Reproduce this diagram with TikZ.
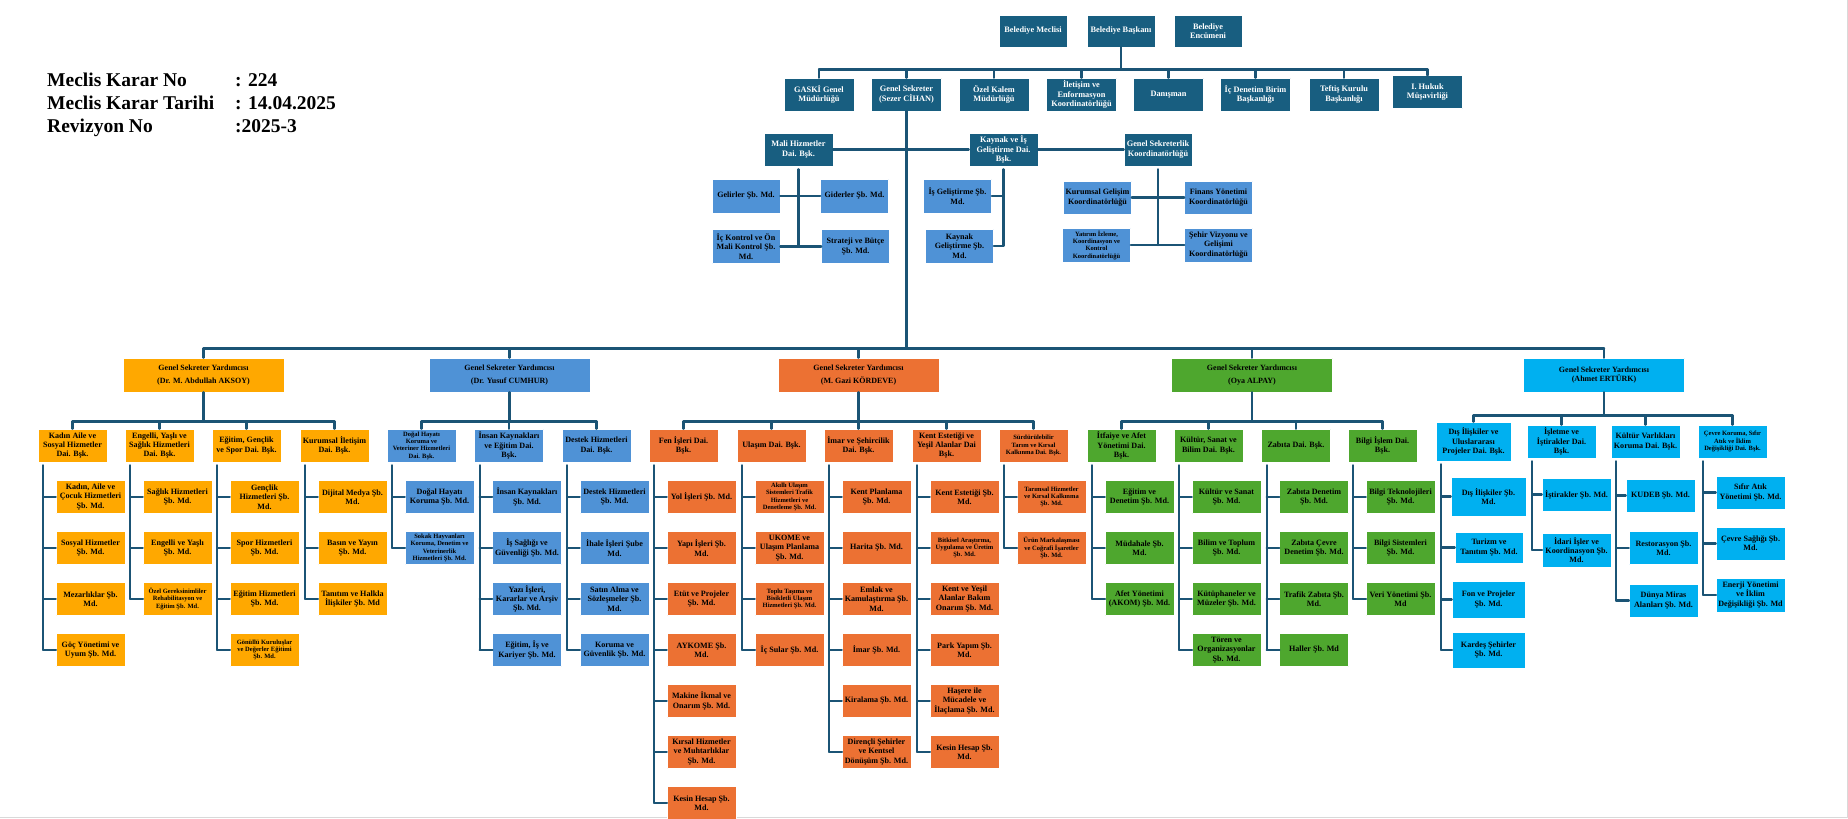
\documentclass[tikz,border=0pt]{standalone}
\usepackage{fontspec}
\setmainfont{Liberation Serif}
\usepackage{pgf,tikz}
\usetikzlibrary{arrows}

\definecolor{lacivert}{RGB}{24,94,128}
\definecolor{hatrengi}{RGB}{27,84,117}
\definecolor{acikmavi}{RGB}{79,146,214}
\definecolor{turuncu}{RGB}{255,168,0}
\definecolor{kiremit}{RGB}{236,113,51}
\definecolor{yesil}{RGB}{78,167,46}
\definecolor{camgobegi}{RGB}{0,176,240}

\begin{document}
\begin{tikzpicture}[line cap=round,line join=round,x=1pt,y=-1pt,
    kutu/.style={rectangle,draw=white,line width=0.6pt,align=center,inner sep=1pt,minimum width=69pt,minimum height=33pt,font=\fontsize{8.1}{9.3}\selectfont\bfseries},
    duz/.style={},
    ince/.style={font=\fontsize{6.5}{7.3}\selectfont\bfseries},
    koyu/.style={kutu,fill=lacivert,text=white,font=\fontsize{8.3}{9.4}\selectfont\bfseries},
    gsy/.style={kutu,minimum width=161pt,minimum height=34pt,font=\fontsize{8}{13}\selectfont\bfseries},
    baslik/.style={anchor=base west,inner sep=0pt,font=\fontsize{19.5}{22}\selectfont\bfseries},
    hat/.style={line width=2.4pt,color=hatrengi}]
\useasboundingbox (0,0) rectangle (1848,819);
\draw[gray!30,line width=1pt] (0,817.5) -- (1847.5,817.5) -- (1847.5,0);

% karar bilgisi
\node[baslik] (kararno) at (47,86) {Meclis Karar No};
\node[baslik] (kararnov) at (235,86) {: 224};
\node[baslik] (karartar) at (47,109) {Meclis Karar Tarihi};
\node[baslik] (karartarv) at (235,109) {: 14.04.2025};
\node[baslik] (revizyon) at (47,132) {Revizyon No};
\node[baslik] (revizyonv) at (235,132) {:2025-3};

% baskanlik
\node[koyu,minimum width=68pt,minimum height=32pt] (meclis) at (1033,31) {Belediye Meclisi};
\node[koyu,minimum width=68pt,minimum height=32pt] (baskan) at (1121,31) {Belediye Başkanı};
\node[koyu,minimum width=68pt,minimum height=32pt] (encumen) at (1208,31) {Belediye\\Encümeni};

\node[koyu,minimum width=70pt] (gaski) at (819,94.5) {GASKİ Genel\\Müdürlüğü};
\node[koyu,minimum width=70pt] (gs) at (906.5,94.5) {Genel Sekreter\\(Sezer CİHAN)};
\node[koyu,minimum width=70pt] (ozel) at (994,94.5) {Özel Kalem\\Müdürlüğü};
\node[koyu,minimum width=70pt] (iletisim) at (1081.5,94.5) {İletişim ve\\Enformasyon\\Koordinatörlüğü};
\node[koyu,minimum width=70pt] (danisman) at (1168.5,94.5) {Danışman};
\node[koyu,minimum width=70pt] (icdenetim) at (1255.5,94.5) {İç Denetim Birim\\Başkanlığı};
\node[koyu,minimum width=70pt] (teftis) at (1344,94.5) {Teftiş Kurulu\\Başkanlığı};
\node[koyu,minimum width=70pt] (hukuk) at (1427.5,92) {I. Hukuk\\Müşavirliği};

\draw[hat] (baskan.south) -- ++(0,22) coordinate (ust);
\draw[hat] (ust -| gaski.north) -- (ust -| hukuk.north);
\foreach \n in {gaski,gs,ozel,iletisim,danisman,icdenetim,teftis,hukuk}
  \draw[hat] (ust -| \n.north) -- (\n.north);

% genel sekreter altı
\node[koyu] (mali) at (798.5,149.5) {Mali Hizmetler\\Dai. Bşk.};
\node[koyu] (kaynak) at (1003.5,149.5) {Kaynak ve İş\\Geliştirme Dai.\\Bşk.};
\node[koyu,minimum width=68pt] (gsk) at (1158,149.5) {Genel Sekreterlik\\Koordinatörlüğü};

\node[kutu,fill=acikmavi,minimum width=68pt,minimum height=34pt] (gelirler) at (746,196) {Gelirler Şb. Md.};
\node[kutu,fill=acikmavi,minimum width=68pt,minimum height=34pt] (giderler) at (854.5,196) {Giderler Şb. Md.};
\node[kutu,fill=acikmavi,minimum width=68pt,minimum height=34pt] (ickontrol) at (746,246.5) {İç Kontrol ve Ön\\Mali Kontrol Şb.\\Md.};
\node[kutu,fill=acikmavi,minimum width=68pt,minimum height=34pt] (strateji) at (855.5,246.5) {Strateji ve Bütçe\\Şb. Md.};
\node[kutu,fill=acikmavi,minimum width=68pt,minimum height=34pt] (isgel) at (957.5,196) {İş Geliştirme Şb.\\Md.};
\node[kutu,fill=acikmavi,minimum width=68pt,minimum height=34pt] (kaygel) at (959.5,246) {Kaynak\\Geliştirme Şb.\\Md.};
\node[kutu,fill=acikmavi,minimum width=68pt,minimum height=33pt] (kurumsalg) at (1097.5,197.5) {Kurumsal Gelişim\\Koordinatörlüğü};
\node[kutu,fill=acikmavi,minimum width=68pt,minimum height=33pt] (finans) at (1218.5,197.5) {Finans Yönetimi\\Koordinatörlüğü};
\node[kutu,fill=acikmavi,ince,minimum width=68pt,minimum height=34pt] (yatirim) at (1096.5,245) {Yatırım İzleme,\\Koordinasyon ve\\Kontrol\\Koordinatörlüğü};
\node[kutu,fill=acikmavi,minimum width=68pt,minimum height=34pt] (sehir) at (1218.5,245) {Şehir Vizyonu ve\\Gelişimi\\Koordinatörlüğü};

\draw[hat] (gs.south) -- ++(0,237) coordinate (ana);
\draw[hat] (mali.east) -- (kaynak.west);
\draw[hat] (kaynak.east) -- (gsk.west);
\draw[hat] ([yshift=-3pt]mali.south) -- (mali.south |- ickontrol.east);
\draw[hat] (gelirler.east) -- (giderler.west);
\draw[hat] (ickontrol.east) -- (strateji.west);
\draw[hat] ([yshift=-3pt]kaynak.south) |- (kaygel.east);
\draw[hat] (kaynak.south |- isgel.east) -- (isgel.east);
\draw[hat] ([yshift=-3pt]gsk.south) -- (gsk.south |- sehir.west);
\draw[hat] (kurumsalg.east) -- (finans.west);
\draw[hat] (yatirim.east) -- (sehir.west);

% genel sekreter yardimcilari
\node[gsy,fill=turuncu] (aksoy) at (203.5,375) {Genel Sekreter Yardımcısı\\(Dr. M. Abdullah AKSOY)};
\node[gsy,fill=acikmavi] (cumhur) at (509.5,375) {Genel Sekreter Yardımcısı\\(Dr. Yusuf CUMHUR)};
\node[gsy,fill=kiremit] (kordeve) at (858.5,375) {Genel Sekreter Yardımcısı\\(M. Gazi KÖRDEVE)};
\node[gsy,fill=yesil] (alpay) at (1252,375) {Genel Sekreter Yardımcısı\\(Oya ALPAY)};
\node[gsy,fill=camgobegi,font=\fontsize{8}{9.5}\selectfont\bfseries] (erturk) at (1604,375) {Genel Sekreter Yardımcısı\\(Ahmet ERTÜRK)};

\draw[hat] (ana -| aksoy.north) -- (ana -| erturk.north);
\foreach \n in {aksoy,cumhur,kordeve,alpay,erturk}
  \draw[hat] (ana -| \n.north) -- (\n.north);

% daire baskanliklari
\node[kutu,fill=turuncu] (kadin) at (72.5,445.5) {Kadın Aile ve\\Sosyal Hizmetler\\Dai. Bşk.};
\node[kutu,fill=turuncu] (engelli) at (159.5,445.5) {Engelli, Yaşlı ve\\Sağlık Hizmetleri\\Dai. Bşk.};
\node[kutu,fill=turuncu] (egitim) at (246.5,445.5) {Eğitim, Gençlik\\ve Spor Dai. Bşk.};
\node[kutu,fill=turuncu] (kurumsal) at (334.5,445.5) {Kurumsal İletişim\\Dai. Bşk.};

\node[kutu,fill=acikmavi,ince] (dogal) at (421.5,445.5) {Doğal Hayatı\\Koruma ve\\Veteriner Hizmetleri\\Dai. Bşk.};
\node[kutu,fill=acikmavi] (insan) at (509,445.5) {İnsan Kaynakları\\ve Eğitim Dai.\\Bşk.};
\node[kutu,fill=acikmavi] (destek) at (596.5,445.5) {Destek Hizmetleri\\Dai. Bşk.};

\node[kutu,fill=kiremit] (fen) at (683.5,445.5) {Fen İşleri Dai.\\Bşk.};
\node[kutu,fill=kiremit] (ulasim) at (771.5,445.5) {Ulaşım Dai. Bşk.};
\node[kutu,fill=kiremit] (imar) at (858.5,445.5) {İmar ve Şehircilik\\Dai. Bşk.};
\node[kutu,fill=kiremit] (kent) at (946.5,445.5) {Kent Estetiği ve\\Yeşil Alanlar Dai\\Bşk.};
\node[kutu,fill=kiremit,ince] (tarim) at (1033.5,445.5) {Sürdürülebilir\\Tarım ve Kırsal\\Kalkınma Dai. Bşk.};

\node[kutu,fill=yesil] (itfaiye) at (1121.5,445.5) {İtfaiye ve Afet\\Yönetimi Dai.\\Bşk.};
\node[kutu,fill=yesil] (kultur) at (1208.5,445.5) {Kültür, Sanat ve\\Bilim Dai. Bşk.};
\node[kutu,fill=yesil] (zabita) at (1296,445.5) {Zabıta Dai. Bşk.};
\node[kutu,fill=yesil] (bilgi) at (1382.5,445.5) {Bilgi İşlem Dai.\\Bşk.};

\node[kutu,fill=camgobegi,minimum width=75pt,minimum height=39pt] (disil) at (1473.5,441.5) {Dış İlişkiler ve\\Uluslararası\\Projeler Dai. Bşk.};
\node[kutu,fill=camgobegi] (isletme) at (1561.5,441.5) {İşletme ve\\İştirakler Dai.\\Bşk.};
\node[kutu,fill=camgobegi] (kulvar) at (1645.5,441.5) {Kültür Varlıkları\\Koruma Dai. Bşk.};
\node[kutu,fill=camgobegi,ince] (cevre) at (1732.5,441.5) {Çevre Koruma, Sıfır\\Atık ve İklim\\Değişikliği Dai. Bşk.};

\foreach \g/\a/\b in {aksoy/kadin/kurumsal,cumhur/dogal/destek,kordeve/fen/tarim,alpay/itfaiye/bilgi}{
  \draw[hat] (\g.south) -- ++(0,29) coordinate (\g bus);
  \draw[hat] (\g bus -| \a.north) -- (\g bus -| \b.north);
}
\draw[hat] (erturk.south) -- ++(0,23) coordinate (erturkbus);
\draw[hat] (erturkbus -| disil.north) -- (erturkbus -| cevre.north);
\foreach \g/\n in {aksoy/kadin,aksoy/engelli,aksoy/egitim,aksoy/kurumsal,cumhur/dogal,cumhur/insan,cumhur/destek,kordeve/fen,kordeve/ulasim,kordeve/imar,kordeve/kent,kordeve/tarim,alpay/itfaiye,alpay/kultur,alpay/zabita,alpay/bilgi,erturk/disil,erturk/isletme,erturk/kulvar,erturk/cevre}
  \draw[hat] (\g bus -| \n.north) -- (\n.north);

% sube mudurlukleri
\foreach \t/\s [count=\i] in {{Kadın, Aile ve\\Çocuk Hizmetleri\\Şb. Md.}/duz,{Sosyal Hizmetler\\Şb. Md.}/duz,{Mezarlıklar Şb.\\Md.}/duz,{Göç Yönetimi ve\\Uyum Şb. Md.}/duz}
  \node[kutu,fill=turuncu,\s] (kadin\i) at (90.5,{497+51*(\i-1)}) {\t};
\foreach \t/\s [count=\i] in {{Sağlık Hizmetleri\\Şb. Md.}/duz,{Engelli ve Yaşlı\\Şb. Md.}/duz,{Özel Gereksinimliler\\Rehabilitasyon ve\\Eğitim Şb. Md.}/ince}
  \node[kutu,fill=turuncu,\s] (engelli\i) at (177.5,{497+51*(\i-1)}) {\t};
\foreach \t/\s [count=\i] in {{Gençlik\\Hizmetleri Şb.\\Md.}/duz,{Spor Hizmetleri\\Şb. Md.}/duz,{Eğitim Hizmetleri\\Şb. Md.}/duz,{Gönüllü Kuruluşlar\\ve Değerler Eğitimi\\Şb. Md.}/ince}
  \node[kutu,fill=turuncu,\s] (egitim\i) at (264.5,{497+51*(\i-1)}) {\t};
\foreach \t/\s [count=\i] in {{Dijital Medya Şb.\\Md.}/duz,{Basın ve Yayın\\Şb. Md.}/duz,{Tanıtım ve Halkla\\İlişkiler Şb. Md}/duz}
  \node[kutu,fill=turuncu,\s] (kurumsal\i) at (352.5,{497+51*(\i-1)}) {\t};

\foreach \t/\s [count=\i] in {{Doğal Hayatı\\Koruma Şb. Md.}/duz,{Sokak Hayvanları\\Koruma, Denetim ve\\Veterinerlik\\Hizmetleri Şb. Md.}/ince}
  \node[kutu,fill=acikmavi,\s] (dogal\i) at (439.5,{497+51*(\i-1)}) {\t};
\foreach \t/\s [count=\i] in {{İnsan Kaynakları\\Şb. Md.}/duz,{İş Sağlığı ve\\Güvenliği Şb. Md.}/duz,{Yazı İşleri,\\Kararlar ve Arşiv\\Şb. Md.}/duz,{Eğitim, İş ve\\Kariyer Şb. Md.}/duz}
  \node[kutu,fill=acikmavi,\s] (insan\i) at (527,{497+51*(\i-1)}) {\t};
\foreach \t/\s [count=\i] in {{Destek Hizmetleri\\Şb. Md.}/duz,{İhale İşleri Şube\\Md.}/duz,{Satın Alma ve\\Sözleşmeler Şb.\\Md.}/duz,{Koruma ve\\Güvenlik Şb. Md.}/duz}
  \node[kutu,fill=acikmavi,\s] (destek\i) at (614.5,{497+51*(\i-1)}) {\t};

\foreach \t/\s [count=\i] in {{Yol İşleri Şb. Md.}/duz,{Yapı İşleri Şb.\\Md.}/duz,{Etüt ve Projeler\\Şb. Md.}/duz,{AYKOME Şb.\\Md.}/duz,{Makine İkmal ve\\Onarım Şb. Md.}/duz,{Kırsal Hizmetler\\ve Muhtarlıklar\\Şb. Md.}/duz,{Kesin Hesap Şb.\\Md.}/duz}
  \node[kutu,fill=kiremit,\s] (fen\i) at (701.5,{497+51*(\i-1)}) {\t};
\foreach \t/\s [count=\i] in {{Akıllı Ulaşım\\Sistemleri Trafik\\Hizmetleri ve\\Denetleme Şb. Md.}/ince,{UKOME ve\\Ulaşım Planlama\\Şb. Md.}/duz,{Toplu Taşıma ve\\Bisikletli Ulaşım\\Hizmetleri Şb. Md.}/ince,{İç Sular Şb. Md.}/duz}
  \node[kutu,fill=kiremit,\s] (ulasim\i) at (789.5,{497+51*(\i-1)}) {\t};
\foreach \t/\s [count=\i] in {{Kent Planlama\\Şb. Md.}/duz,{Harita Şb. Md.}/duz,{Emlak ve\\Kamulaştırma Şb.\\Md.}/duz,{İmar Şb. Md.}/duz,{Kiralama Şb. Md.}/duz,{Dirençli Şehirler\\ve Kentsel\\Dönüşüm Şb. Md.}/duz}
  \node[kutu,fill=kiremit,\s] (imar\i) at (876.5,{497+51*(\i-1)}) {\t};
\foreach \t/\s [count=\i] in {{Kent Estetiği Şb.\\Md.}/duz,{Bitkisel Araştırma,\\Uygulama ve Üretim\\Şb. Md.}/ince,{Kent ve Yeşil\\Alanlar Bakım\\Onarım Şb. Md.}/duz,{Park Yapım Şb.\\Md.}/duz,{Haşere ile\\Mücadele ve\\İlaçlama Şb. Md.}/duz,{Kesin Hesap Şb.\\Md.}/duz}
  \node[kutu,fill=kiremit,\s] (kent\i) at (964.5,{497+51*(\i-1)}) {\t};
\foreach \t/\s [count=\i] in {{Tarımsal Hizmetler\\ve Kırsal Kalkınma\\Şb. Md.}/ince,{Ürün Markalaşması\\ve Coğrafi İşaretler\\Şb. Md.}/ince}
  \node[kutu,fill=kiremit,\s] (tarim\i) at (1051.5,{497+51*(\i-1)}) {\t};

\foreach \t/\s [count=\i] in {{Eğitim ve\\Denetim Şb. Md.}/duz,{Müdahale Şb.\\Md.}/duz,{Afet Yönetimi\\(AKOM) Şb. Md.}/duz}
  \node[kutu,fill=yesil,\s] (itfaiye\i) at (1139.5,{497+51*(\i-1)}) {\t};
\foreach \t/\s [count=\i] in {{Kültür ve Sanat\\Şb. Md.}/duz,{Bilim ve Toplum\\Şb. Md.}/duz,{Kütüphaneler ve\\Müzeler Şb. Md.}/duz,{Tören ve\\Organizasyonlar\\Şb. Md.}/duz}
  \node[kutu,fill=yesil,\s] (kultur\i) at (1226.5,{497+51*(\i-1)}) {\t};
\foreach \t/\s [count=\i] in {{Zabıta Denetim\\Şb. Md.}/duz,{Zabıta Çevre\\Denetim Şb. Md.}/duz,{Trafik Zabıta Şb.\\Md.}/duz,{Haller Şb. Md}/duz}
  \node[kutu,fill=yesil,\s] (zabita\i) at (1314,{497+51*(\i-1)}) {\t};
\foreach \t/\s [count=\i] in {{Bilgi Teknolojileri\\Şb. Md.}/duz,{Bilgi Sistemleri\\Şb. Md.}/duz,{Veri Yönetimi Şb.\\Md}/duz}
  \node[kutu,fill=yesil,\s] (bilgi\i) at (1400.5,{497+51*(\i-1)}) {\t};

\node[kutu,fill=camgobegi,minimum width=75pt,minimum height=39pt] (disil1) at (1488.5,496.5) {Dış İlişkiler Şb.\\Md.};
\node[kutu,fill=camgobegi,minimum width=68pt,minimum height=31pt] (disil2) at (1489,547.5) {Turizm ve\\Tanıtım Şb. Md.};
\node[kutu,fill=camgobegi,minimum width=73pt,minimum height=37pt] (disil3) at (1488.5,599.5) {Fon ve Projeler\\Şb. Md.};
\node[kutu,fill=camgobegi,minimum width=73pt,minimum height=36pt] (disil4) at (1488.5,650) {Kardeş Şehirler\\Şb. Md.};
\node[kutu,fill=camgobegi] (isletme1) at (1576.5,494.5) {İştirakler Şb. Md.};
\node[kutu,fill=camgobegi,minimum height=34pt] (isletme2) at (1576.5,550) {İdari İşler ve\\Koordinasyon Şb.\\Md.};
\node[kutu,fill=camgobegi] (kulvar1) at (1660.5,495.5) {KUDEB Şb. Md.};
\node[kutu,fill=camgobegi] (kulvar2) at (1663.5,548) {Restorasyon Şb.\\Md.};
\node[kutu,fill=camgobegi] (kulvar3) at (1663.5,600.5) {Dünya Miras\\Alanları Şb. Md.};
\node[kutu,fill=camgobegi] (cevre1) at (1750.5,492.5) {Sıfır Atık\\Yönetimi Şb. Md.};
\node[kutu,fill=camgobegi] (cevre2) at (1750.5,543.5) {Çevre Sağlığı Şb.\\Md.};
\node[kutu,fill=camgobegi,minimum height=34pt] (cevre3) at (1750.5,595) {Enerji Yönetimi\\ve İklim\\Değişikliği Şb. Md};

\foreach \d/\n in {kadin/4,engelli/3,egitim/4,kurumsal/3,dogal/2,insan/4,destek/4,fen/7,ulasim/4,imar/6,kent/6,tarim/2,itfaiye/3,kultur/4,zabita/4,bilgi/3,disil/4,isletme/2,kulvar/3,cevre/3}{
  \draw[hat] ([xshift=5.5pt,yshift=-3pt]\d.south west) |- (\d\n.west);
  \foreach \i in {1,...,\n}
    \draw[hat] ([xshift=5.5pt]\d.south west |- \d\i.west) -- (\d\i.west);
}
\end{tikzpicture}
\end{document}
